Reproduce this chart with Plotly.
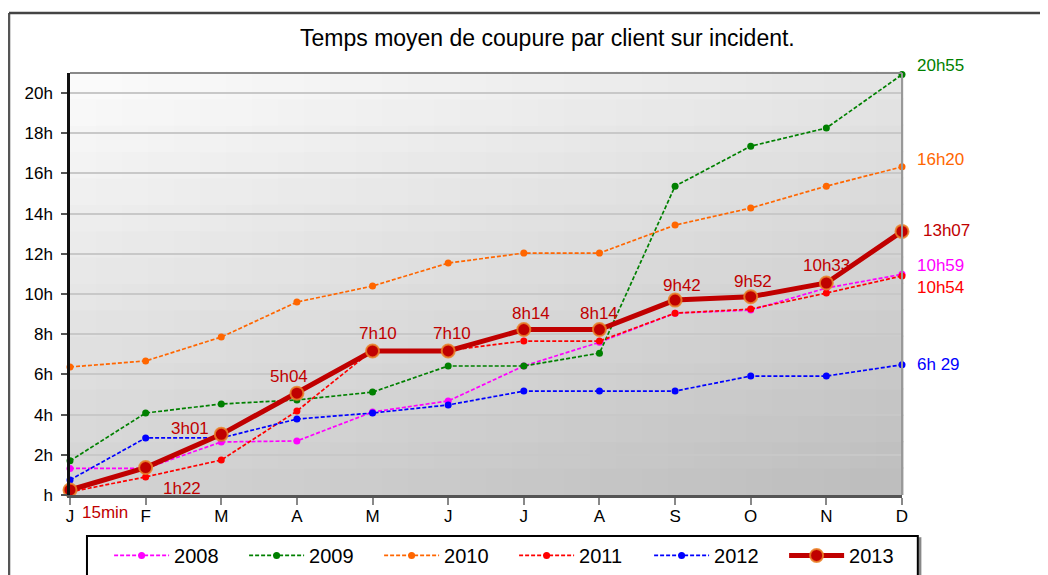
import plotly.graph_objects as go

months = ["J", "F", "M", "A", "M", "J", "J", "A", "S", "O", "N", "D"]
x_idx = list(range(len(months)))

y_tickvals = [0, 2, 4, 6, 8, 10, 12, 14, 16, 18, 20]
y_ticktext = ["h", "2h", "4h", "6h", "8h", "10h", "12h", "14h", "16h", "18h", "20h"]

v2008 = [1.32, 1.32, 2.64, 2.69, 4.13, 4.68, 6.42, 7.6, 9.05, 9.2, 10.3, 10.98]
v2009 = [1.7, 4.08, 4.53, 4.73, 5.12, 6.42, 6.42, 7.06, 15.37, 17.36, 18.26, 20.92]
v2010 = [6.37, 6.67, 7.86, 9.6, 10.4, 11.54, 12.04, 12.04, 13.43, 14.28, 15.37, 16.33]
v2011 = [0.15, 0.9, 1.74, 4.18, 7.2, 7.2, 7.66, 7.66, 9.05, 9.25, 10.05, 10.9]
v2012 = [0.75, 2.84, 2.84, 3.78, 4.08, 4.48, 5.17, 5.17, 5.17, 5.92, 5.92, 6.48]
v2013 = [0.25, 1.367, 3.017, 5.067, 7.167, 7.167, 8.233, 8.233, 9.7, 9.867, 10.55, 13.117]
labels2013 = ["15min", "1h22", "3h01", "5h04", "7h10", "7h10", "8h14", "8h14",
              "9h42", "9h52", "10h33", "13h07"]
# label offsets (px) for the 2013 labels
lab_dx = [35, 36, -31, -8, 5, 4, 7, 0, 7, 2, 0, 19]
lab_dy = [-23, -21, 6, 17, 17, 17, 16, 16, 15, 15, 18, 1]

end_labels = [("2009", "20h55", v2009[-1], 9, "#008000"),
              ("2010", "16h20", v2010[-1], 7, "#FF6600"),
              ("2008", "10h59", v2008[-1], 9, "#FF00FF"),
              ("2011", "10h54", v2011[-1], -12, "#FF0000"),
              ("2012", "6h 29", v2012[-1], 0, "#0000FF")]

FONT = "Liberation Sans, Arial, sans-serif"
fig = go.Figure()

series = [("2008", v2008, "#FF00FF"), ("2009", v2009, "#008000"),
          ("2010", v2010, "#FF6600"), ("2011", v2011, "#FF0000"),
          ("2012", v2012, "#0000FF")]
for name, vals, col in series:
    fig.add_trace(go.Scatter(
        x=x_idx, y=vals, name=name, mode="lines+markers",
        line=dict(color=col, width=1.7, dash="4px,2px"),
        marker=dict(color=col, size=7, symbol="circle"),
        cliponaxis=False))

fig.add_trace(go.Scatter(
    x=x_idx, y=v2013, name="2013", mode="lines+markers",
    line=dict(color="#C00000", width=5),
    marker=dict(color="#C00000", size=13, symbol="circle",
                line=dict(color="rgba(235,130,40,0.85)", width=2)),
    cliponaxis=False))

annotations = []
for i, (lab, val) in enumerate(zip(labels2013, v2013)):
    annotations.append(dict(
        x=x_idx[i], y=val, text=lab, showarrow=False,
        xanchor="left" if i == len(v2013) - 1 else "center",
        xshift=lab_dx[i], yshift=lab_dy[i],
        font=dict(family=FONT, size=17, color="#C00000")))
for _, txt, val, dy, col in end_labels:
    annotations.append(dict(
        x=x_idx[-1], y=val, text=txt, showarrow=False, xanchor="left",
        xshift=13, yshift=dy, font=dict(family=FONT, size=17, color=col)))

annotations.append(dict(
    x=0.5745, y=1.083, xref="paper", yref="paper", xanchor="center", yanchor="middle",
    text="Temps moyen de coupure par client sur incident.", showarrow=False,
    font=dict(family=FONT, size=23, color="#000000")))

# gradient background (plot area)
shapes = []
NX, NY = 32, 16
for ix in range(NX):
    for iy in range(NY):
        u = (ix + 0.5) / NX
        v = (iy + 0.5) / NY
        t = 0.65 * (1 - v) + 0.35 * u
        g = int(round(252 - t * (252 - 188)))
        shapes.append(dict(
            type="rect", xref="x domain", yref="y domain",
            x0=ix / NX, x1=(ix + 1) / NX + 0.002,
            y0=iy / NY, y1=(iy + 1) / NY + 0.003,
            fillcolor=f"rgb({g},{g},{g})", line=dict(width=0), layer="below"))

# top and right frame lines
shapes.append(dict(type="line", xref="paper", yref="paper", x0=0, x1=1, y0=1, y1=1,
                   line=dict(color="#888888", width=2)))
shapes.append(dict(type="line", xref="paper", yref="paper", x0=1, x1=1, y0=0, y1=1,
                   line=dict(color="#999999", width=2)))
# outer chart border (left and top)
shapes.append(dict(type="line", xref="paper", yref="paper", x0=-0.0733, x1=-0.0733,
                   y0=-0.3, y1=1.142, line=dict(color="#555555", width=2.5)))
shapes.append(dict(type="line", xref="paper", yref="paper", x0=-0.0733, x1=1.3,
                   y0=1.142, y1=1.142, line=dict(color="#444444", width=2.5)))
# legend box with right shadow
shapes.append(dict(type="line", xref="paper", yref="paper", x0=1.0215, x1=1.0215,
                   y0=-0.3, y1=-0.1, line=dict(color="#888888", width=3)))
shapes.append(dict(type="rect", xref="paper", yref="paper", x0=0.0204, x1=1.019,
                   y0=-0.35, y1=-0.097, fillcolor="rgba(0,0,0,0)",
                   line=dict(color="#000000", width=2)))

fig.update_layout(
    width=1048, height=575,
    margin=dict(l=62, r=154, t=65, b=88, pad=0, autoexpand=False),
    paper_bgcolor="white", plot_bgcolor="#e0e0e0",
    font=dict(family=FONT, size=15, color="#000000"),
    showlegend=True,
    legend=dict(orientation="h", x=0.047, y=-0.097, xanchor="left", yanchor="top",
                bgcolor="rgba(0,0,0,0)", borderwidth=0,
                font=dict(family=FONT, size=20, color="#000000"),
                entrywidth=65, entrywidthmode="pixels",
                itemwidth=55, tracegroupgap=0),
    annotations=annotations,
    shapes=shapes,
)
fig.update_xaxes(
    range=[0, 11], tickvals=x_idx, ticktext=months, showgrid=False, zeroline=False,
    showline=True, linecolor="#555555", linewidth=3,
    ticks="outside", ticklen=7, tickcolor="#888888", tickwidth=2,
    ticklabelstandoff=-3,
    tickfont=dict(family=FONT, size=17, color="#000000"))
fig.update_yaxes(
    range=[0, 21], tickvals=y_tickvals, ticktext=y_ticktext,
    showgrid=True, gridcolor="#c8c8c8", gridwidth=2, zeroline=False,
    showline=True, linecolor="#111111", linewidth=2.5,
    ticks="outside", ticklen=6, tickcolor="#555555", tickwidth=2,
    ticklabelstandoff=5,
    tickfont=dict(family=FONT, size=17, color="#000000"))

fig.write_html("out.html")
